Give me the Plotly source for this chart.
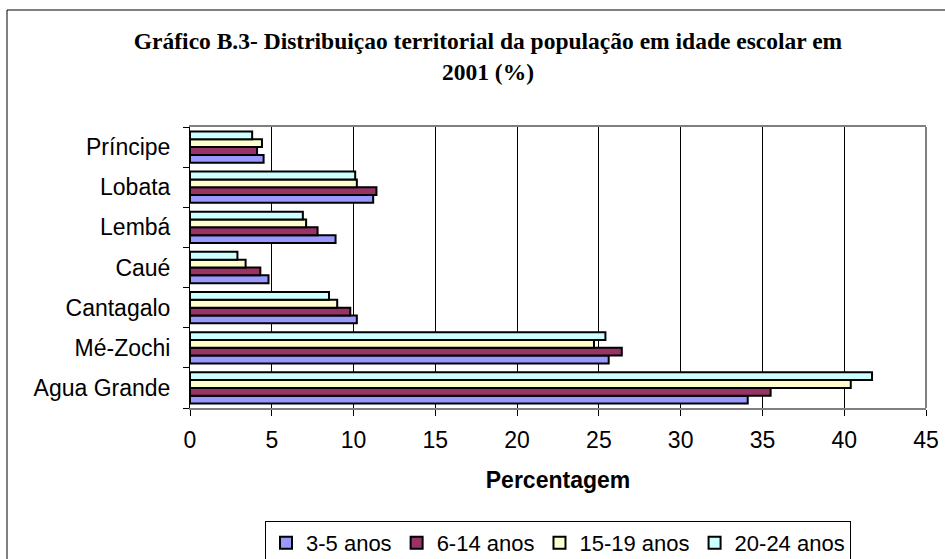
import plotly.graph_objects as go

# distritos (de baixo para cima no gráfico)
districts = ['Agua Grande', 'Mé-Zochi', 'Cantagalo', 'Caué', 'Lembá', 'Lobata', 'Príncipe']

age_3_5 = [34.1, 25.6, 10.2, 4.8, 8.9, 11.2, 4.5]
age_6_14 = [35.5, 26.4, 9.8, 4.3, 7.8, 11.4, 4.1]
age_15_19 = [40.4, 24.7, 9.0, 3.4, 7.1, 10.2, 4.4]
age_20_24 = [41.7, 25.4, 8.5, 2.9, 6.9, 10.1, 3.8]

series_names = ['3-5 anos', '6-14 anos', '15-19 anos', '20-24 anos']
series_colors = ['#9999FF', '#993366', '#FFFFCC', '#CCFFFF']

x_ticks = [0, 5, 10, 15, 20, 25, 30, 35, 40, 45]

W, H = 945, 559
L, R, T, B = 190, 19, 127, 151
pw, ph = W - L - R, H - T - B


def px_x(p):
    return (p - L) / pw


def px_y(p):
    return (H - B - p) / ph


def build_chart():
    fig = go.Figure()
    for name, vals, col in zip(series_names, [age_3_5, age_6_14, age_15_19, age_20_24], series_colors):
        fig.add_trace(go.Bar(
            x=vals,
            y=districts,
            name=name,
            orientation='h',
            marker=dict(color=col, line=dict(color='black', width=2)),
        ))

    fig.update_layout(
        width=W,
        height=H,
        margin=dict(l=L, r=R, t=T, b=B),
        paper_bgcolor='white',
        plot_bgcolor='white',
        barmode='group',
        bargap=0.22,
        bargroupgap=0,
        font=dict(family='Liberation Sans, Arial', size=23, color='black'),
        title=dict(
            text='Gráfico B.3- Distribuiçao territorial da população em idade escolar em<br>2001 (%)',
            font=dict(family='Liberation Serif, Times New Roman', size=23.5, color='black', weight='bold'),
            x=488 / W,
            xanchor='center',
            y=1 - 49 / H,
            yanchor='top',
        ),
        legend=dict(
            orientation='h',
            x=px_x(265),
            xanchor='left',
            yref='container',
            y=1 - 521 / H,
            yanchor='top',
            bordercolor='black',
            borderwidth=1,
            itemwidth=30,
            font=dict(size=22),
            traceorder='normal',
        ),
        showlegend=True,
    )

    fig.update_xaxes(
        range=[0, 45],
        tickvals=x_ticks,
        automargin=False,
        showgrid=True,
        gridcolor='black',
        gridwidth=1,
        zeroline=False,
        showline=True,
        linecolor='#808080',
        linewidth=2,
        mirror=True,
        ticks='outside',
        ticklen=6,
        tickcolor='black',
        ticklabelstandoff=4,
        title=dict(text='<b>Percentagem</b>', standoff=20, font=dict(size=23)),
    )
    fig.update_yaxes(
        categoryorder='array',
        categoryarray=districts,
        automargin=False,
        showgrid=False,
        showline=True,
        linecolor='black',
        linewidth=1,
        ticks='outside',
        tickson='boundaries',
        ticklen=6,
        tickcolor='black',
        ticklabelstandoff=14,
    )

    # borda direita cinza da área do gráfico e moldura externa
    fig.add_shape(type='line', xref='paper', yref='paper', x0=1, x1=1, y0=0, y1=1,
                  line=dict(color='#808080', width=2))
    fig.add_shape(type='line', xref='paper', yref='paper', x0=px_x(7), x1=px_x(7),
                  y0=px_y(10), y1=px_y(560), line=dict(color='black', width=1))
    fig.add_shape(type='line', xref='paper', yref='paper', x0=px_x(7), x1=px_x(946),
                  y0=px_y(10), y1=px_y(10), line=dict(color='black', width=1))
    return fig


fig = build_chart()
fig.write_html("out.html", config={'displayModeBar': False},
               post_script="document.body.style.margin='0px';")
